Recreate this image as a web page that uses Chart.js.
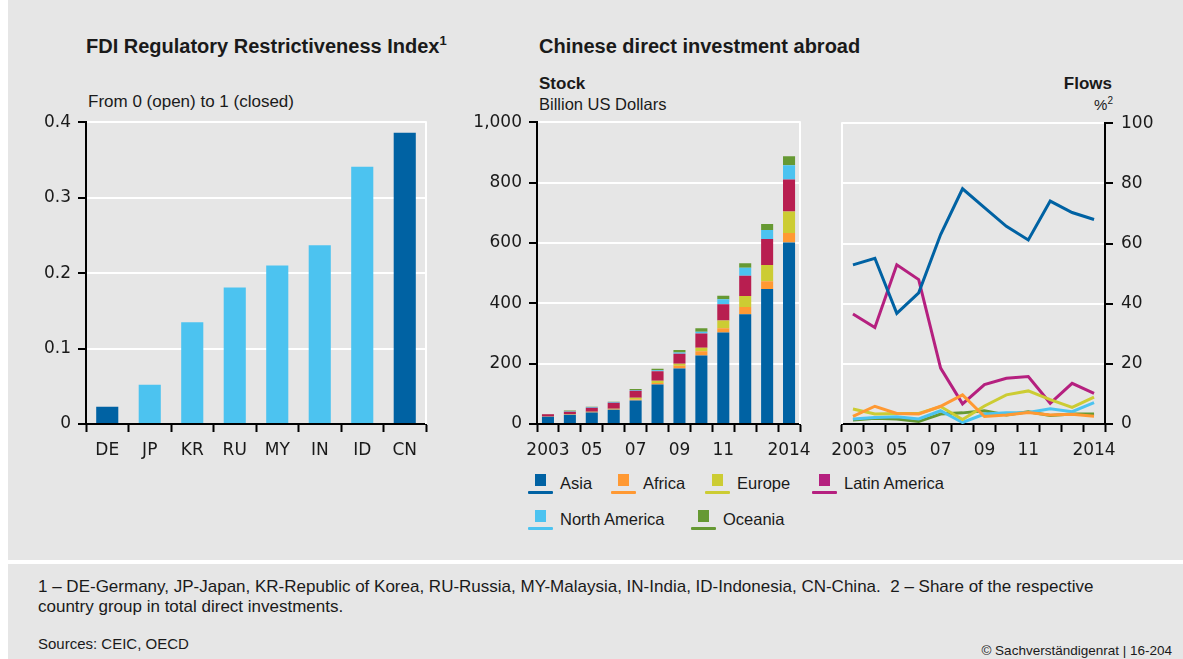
<!DOCTYPE html>
<html>
<head>
<meta charset="utf-8">
<script src="https://cdn.jsdelivr.net/npm/chart.js@4.4.0/dist/chart.umd.min.js"></script>
<style>
  body { margin:0; width:1183px; height:659px; background:#fff; position:relative; overflow:hidden;
         font-family:"Liberation Sans", Arial, sans-serif; color:#1a1a1a; }
  .panel { position:absolute; left:8px; width:1175px; background:#e6e6e6; }
  .t { position:absolute; white-space:nowrap; line-height:1; }
  .title { font-weight:bold; font-size:20px; }
  .title sup { font-size:13px; vertical-align:8px; line-height:0; }
  canvas { position:absolute; }
  .lg { position:absolute; font-size:16.5px; line-height:1; white-space:nowrap; }
  .lg i { position:absolute; left:0; width:25px; height:3px; top:16px; border-radius:1px; }
  .lg b { position:absolute; left:7px; top:-1px; width:11px; height:12px; }
  .lg span { position:absolute; left:32px; top:0; }
  .foot { font-size:17px; line-height:20px; }
</style>
</head>
<body>
<div class="panel" style="top:0;height:560px"></div>
<div class="panel" style="top:564px;height:95px"></div>

<div class="t title" style="left:86px;top:36px">FDI Regulatory Restrictiveness Index<sup>1</sup></div>
<div class="t title" style="left:539px;top:36px">Chinese direct investment abroad</div>
<div class="t" style="left:88px;top:93px;font-size:17px">From 0 (open) to 1 (closed)</div>
<div class="t" style="left:539px;top:75px;font-size:17px;font-weight:bold">Stock</div>
<div class="t" style="left:539px;top:96px;font-size:16.5px">Billion US Dollars</div>
<div class="t" style="right:71px;top:75px;font-size:17px;font-weight:bold">Flows</div>
<div class="t" style="right:70px;top:97px;font-size:15px">%<sup style="font-size:10px;vertical-align:6px;line-height:0">2</sup></div>

<canvas id="fdi" width="410" height="366" style="left:30px;top:105px"></canvas>
<canvas id="stock" width="350" height="366" style="left:470px;top:105px"></canvas>
<canvas id="flows" width="363" height="366" style="left:820px;top:105px"></canvas>

<div id="legend"></div>

<div class="t foot" style="left:38px;top:577px">1 – DE-Germany, JP-Japan, KR-Republic of Korea, RU-Russia, MY-Malaysia, IN-India, ID-Indonesia, CN-China.&nbsp; 2 – Share of the respective<br>country group in total direct investments.</div>
<div class="t" style="left:38px;top:636px;font-size:15px">Sources: CEIC, OECD</div>
<div class="t" style="right:11px;top:644px;font-size:13.5px">© Sachverständigenrat | 16-204</div>

<script>
// FDI restrictiveness index by country
const fdiCountries = ['DE', 'JP', 'KR', 'RU', 'MY', 'IN', 'ID', 'CN'];
const fdiIndex = [0.023, 0.052, 0.135, 0.181, 0.210, 0.237, 0.341, 0.386];
const fdiHighlight = ['DE', 'CN'];

// Chinese ODI, years and shortened tick labels
const years = ['2003', '2004', '2005', '2006', '2007', '2008', '2009', '2010', '2011', '2012', '2013', '2014'];
const yearTicks = ['2003', '', '05', '', '07', '', '09', '', '11', '', '', '2014'];

// stock by region, billion USD
const stockAsia    = [24, 31, 38, 47, 78, 131, 184, 227, 303, 364, 447, 601];
const stockAfrica  = [0.5, 1, 1.5, 2, 3, 5, 9, 14, 14, 24, 26, 32];
const stockEurope  = [0.5, 1, 1, 1.5, 6, 7, 7, 12, 26, 36, 54, 71];
const stockLatAm   = [7, 8, 13, 20, 23, 32, 33, 47, 54, 67, 86, 106];
const stockNorthAm = [0.5, 1.5, 2.5, 2, 3, 3, 4, 6, 16, 27, 30, 47];
const stockOceania = [1, 2.5, 1, 1.5, 3, 5, 8, 11, 12, 15, 20, 30];

// flows, share of total in %
const flowAsia    = [52.9, 55.1, 36.8, 43.6, 63.0, 78.2, 71.9, 65.7, 61.2, 74.1, 70.3, 68.0];
const flowAfrica  = [2.5, 5.9, 3.5, 3.3, 5.9, 9.7, 2.5, 3.0, 3.8, 3.0, 3.2, 2.6];
const flowEurope  = [5.0, 3.3, 3.5, 3.5, 5.8, 1.5, 6.0, 9.7, 11.0, 8.1, 5.5, 8.9];
const flowLatAm   = [36.6, 32.1, 52.9, 48.0, 18.6, 6.7, 13.1, 15.2, 15.8, 6.9, 13.5, 10.2];
const flowNorthAm = [1.7, 2.2, 2.4, 1.7, 4.4, 0.5, 3.3, 3.7, 3.8, 5.1, 4.1, 7.1];
const flowOceania = [1.3, 1.9, 1.7, 0.8, 3.3, 3.7, 4.4, 3.0, 4.1, 2.8, 3.3, 3.3];

const colors = {
  asia: '#0062a3', africa: '#ff9933', europe: '#cccc33',
  latamBar: '#b81e50', latamLine: '#b5207f', northAm: '#4cc3f0', oceania: '#669933'
};
const ink = '#1a1a1a';

Chart.defaults.font.family = 'DejaVu Sans';
Chart.defaults.font.size = 17;
Chart.defaults.color = ink;
Chart.defaults.animation = false;
Chart.defaults.responsive = false;
Chart.defaults.events = [];
Chart.defaults.plugins.legend.display = false;
Chart.defaults.plugins.tooltip.enabled = false;

// white line along one side of the plot area
const edgeLine = {
  id: 'edgeLine',
  beforeDatasetsDraw(chart, args, opts) {
    const { ctx, chartArea } = chart;
    const x = opts.side === 'left' ? chartArea.left : chartArea.right;
    ctx.save();
    ctx.strokeStyle = '#fff';
    ctx.lineWidth = 2;
    ctx.beginPath();
    ctx.moveTo(x, chartArea.top - 1);
    ctx.lineTo(x, chartArea.bottom);
    ctx.stroke();
    ctx.restore();
  }
};

function xAxis(labels, height) {
  return {
    offset: true,
    grid: { drawOnChartArea: false, offset: true, tickLength: 8, tickColor: '#000', tickWidth: 2 },
    border: { color: '#000', width: 2 },
    ticks: { color: ink, padding: 8, maxRotation: 0, autoSkip: false, callback: (v, i) => labels[i] },
    afterFit: s => { s.height = height; }
  };
}

function yAxis(min, max, step, width, position, pad) {
  return {
    position, min, max,
    ticks: { stepSize: step, color: ink, padding: pad },
    grid: {
      color: c => (c.tick && c.tick.value === min) ? 'rgba(0,0,0,0)' : '#fff',
      lineWidth: 2, tickLength: 8, tickColor: '#000', tickWidth: 2
    },
    border: { color: '#000', width: 2 },
    afterFit: s => { s.width = width; }
  };
}

new Chart(document.getElementById('fdi'), {
  type: 'bar',
  data: {
    labels: fdiCountries,
    datasets: [{
      data: fdiIndex,
      backgroundColor: fdiCountries.map(c => fdiHighlight.includes(c) ? colors.asia : colors.northAm),
      categoryPercentage: 1,
      barPercentage: 0.52
    }]
  },
  options: {
    layout: { padding: { top: 12, right: 14 } },
    scales: {
      x: xAxis(fdiCountries, 47),
      y: yAxis(0, 0.4, 0.1, 56, 'left', 7)
    },
    plugins: { edgeLine: { side: 'right' } }
  },
  plugins: [edgeLine]
});

const stockSeries = [
  ['Asia', stockAsia, colors.asia],
  ['Africa', stockAfrica, colors.africa],
  ['Europe', stockEurope, colors.europe],
  ['Latin America', stockLatAm, colors.latamBar],
  ['North America', stockNorthAm, colors.northAm],
  ['Oceania', stockOceania, colors.oceania]
];

new Chart(document.getElementById('stock'), {
  type: 'bar',
  data: {
    labels: years,
    datasets: stockSeries.map(([label, data, color]) => ({
      label, data, backgroundColor: color,
      categoryPercentage: 1, barPercentage: 0.55
    }))
  },
  options: {
    layout: { padding: { top: 13, right: 20 } },
    scales: {
      x: Object.assign(xAxis(yearTicks, 47), { stacked: true }),
      y: Object.assign(yAxis(0, 1000, 200, 67, 'left', 7), { stacked: true })
    },
    plugins: { edgeLine: { side: 'right' } }
  },
  plugins: [edgeLine]
});

const flowSeries = [
  ['Asia', flowAsia, colors.asia],
  ['Africa', flowAfrica, colors.africa],
  ['Europe', flowEurope, colors.europe],
  ['Latin America', flowLatAm, colors.latamLine],
  ['North America', flowNorthAm, colors.northAm],
  ['Oceania', flowOceania, colors.oceania]
];

new Chart(document.getElementById('flows'), {
  type: 'line',
  data: {
    labels: years,
    datasets: flowSeries.map(([label, data, color]) => ({
      label, data, borderColor: color, borderWidth: 3,
      pointRadius: 0, tension: 0, fill: false
    }))
  },
  options: {
    layout: { padding: { top: 13, left: 22, right: 18 } },
    scales: {
      x: xAxis(yearTicks, 47),
      y: yAxis(0, 100, 20, 60, 'right', 8)
    },
    plugins: { edgeLine: { side: 'left' } }
  },
  plugins: [edgeLine]
});

// legend: square for the bars, line underneath for the lines
const legendItems = [
  ['Asia', colors.asia, colors.asia, 528, 475],
  ['Africa', colors.africa, colors.africa, 611, 475],
  ['Europe', colors.europe, colors.europe, 705, 475],
  ['Latin America', colors.latamLine, colors.latamLine, 812, 475],
  ['North America', colors.northAm, colors.northAm, 528, 511],
  ['Oceania', colors.oceania, colors.oceania, 691, 511]
];
const legend = document.getElementById('legend');
legendItems.forEach(([name, sq, ln, x, y]) => {
  const el = document.createElement('div');
  el.className = 'lg';
  el.style.left = x + 'px';
  el.style.top = y + 'px';
  el.innerHTML = `<b style="background:${sq}"></b><i style="background:${ln}"></i><span>${name}</span>`;
  legend.appendChild(el);
});
</script>
</body>
</html>
